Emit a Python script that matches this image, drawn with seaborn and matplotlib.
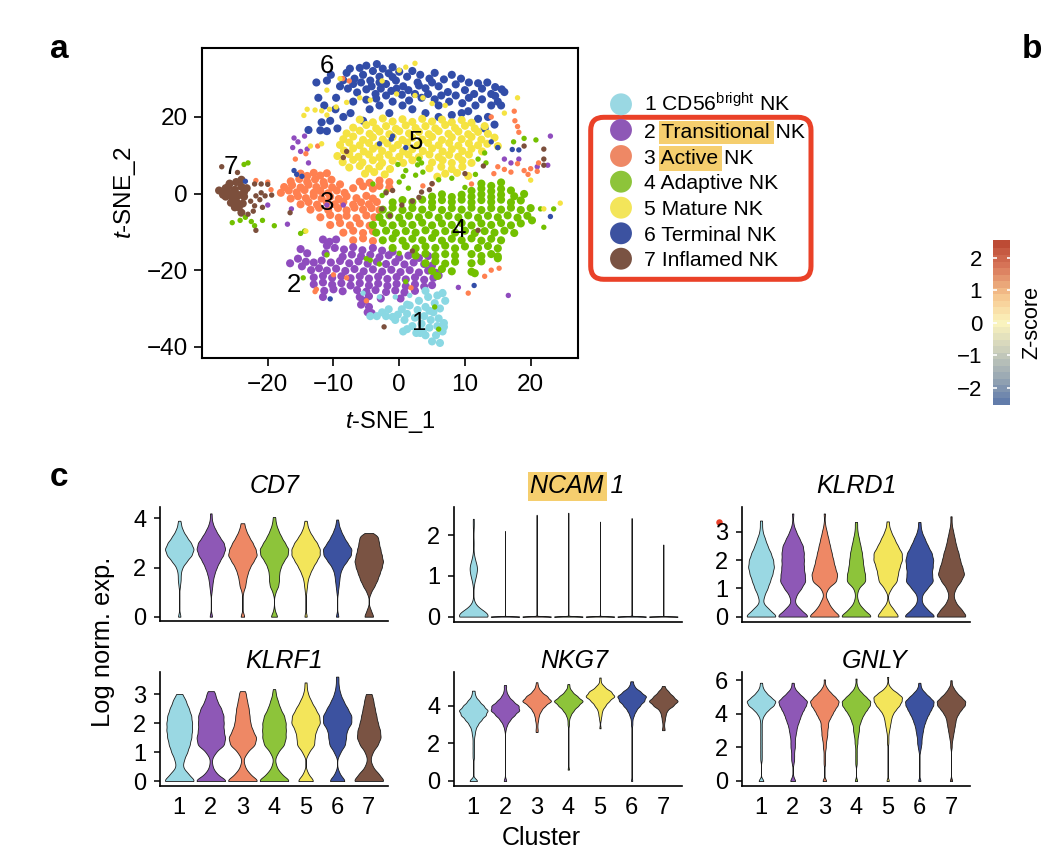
import numpy as np
import pandas as pd
import matplotlib
matplotlib.use("Agg")
import matplotlib.pyplot as plt
from matplotlib.colors import LinearSegmentedColormap
from matplotlib.patches import FancyBboxPatch, Rectangle
import seaborn as sns

W, H = 1042, 858

clusters = ["1", "2", "3", "4", "5", "6", "7"]
vln_colors = ["#9AD8E3", "#8E58B6", "#EE8865", "#8DC43A", "#F3E55A", "#3C52A0", "#7A5343"]
dot_colors = ["#8AD8E3", "#8F4CBE", "#FF8050", "#73C000", "#F5E342", "#324DA8", "#7C4F3C"]
legend_labels = ["1 CD56$^{\\mathrm{bright}}$ NK", "2 Transitional NK", "3 Active NK", "4 Adaptive NK",
                 "5 Mature NK", "6 Terminal NK", "7 Inflamed NK"]

# t-SNE points
pts6 = [(-8,31.5),(-7.5,32.6),(-6.8,30),(-6,32.8),(-5.5,31),(-5,33.4),(-4.4,29.5),(-4,32),(-3.4,33.8),(-3,30.5),
        (-2.5,32.6),(-2,28.6),(-1.6,31.4),(-1,33),(-.5,29.5),(0,31.8),(.6,28),(1.2,30.5),(2,32),(2.8,29),
        (3.2,31),(4,27.5),(4.6,30),(5.4,31.5),(6,28),(6.8,29.8),(7.4,26.5),(8,31),(8.6,28.5),(9.4,30),
        (10,27),(10.6,29),(11.4,26),(12,28.8),(12.6,27.4),(13.4,29),(14,26),(14.6,27.8),(-9,28),(-8.5,29.6),
        (-7.8,27.4),(-7,28.6),(-6.4,26.4),(-5.8,29),(-5,27.2),(-4.2,28),(-3.6,26),(-2.8,27.4),(-2,25.6),(-1.2,26.8),
        (-.4,27.4),(.4,25.8),(1.4,27),(2.4,26),(3.4,25),(4.4,26),(5.4,24.6),(6.4,25.6),(7.6,24),(8.6,25.6),
        (9.6,23.6),(10.6,25),(11.6,23),(12.6,24.6),(-12.6,29),(-12.3,25),(-11,29.5),(-10.4,31),(-11.4,23),(-11.8,18.6),
        (-10.5,19),(-9.4,17),(-12,16.5),(-13.8,16.6),(-11,16.3),(-8.5,20),(-7.4,21),(-5.5,19),(-4.5,22),(-3,23),
        (-1.5,21),(.5,23),(2,22),(4,21),(6,20),(8,20.5),(9.5,21),(10.5,21.5),(12,19.5),(13.5,20),
        (14.5,18),(13,17),(15,24),(16,26.5),(15.6,27.2),(14.6,25.5),(15.5,23),(14,23),(-5,24.5),(-7,24),
        (-1,24),(-3.5,24.8),(1.5,24.3),(6,23),(-9.6,25),(-9.7,22),(3,28.2),(5,29),(-1,30.4),(-3,29)]
pts5 = [(-6,19.3),(-4,18.6),(-2.5,19.6),(-1,18.8),(.5,19.4),(2,18.7),(3.5,19.5),(5,18.8),(6.5,19.3),(8,18.6),(9.5,19.2),(11,18.5),
        (-7,17.2),(-5,17.9),(-3.5,17),(-2,17.6),(-.5,16.9),(1,17.8),(2.5,17.1),(4,17.6),(5.5,17),(7,17.9),(8.5,17.1),(10,17.7),(11.5,17),(13,17.6),
        (-8,15.7),(-6,16.4),(-4.5,15.6),(-3,16.2),(-1.5,15.5),(0,16.3),(1.5,15.7),(3,16.1),(4.5,15.5),(6,16.3),(7.5,15.6),(9,16.2),(10.5,15.5),(12,16.1),(13.5,15.6),
        (-8.5,14.2),(-7,14.9),(-5.5,14),(-4,14.7),(-2.5,14.1),(-1,14.8),(.5,14),(2,14.6),(3.5,14.1),(5,14.8),(6.5,14),(8,14.7),(9.5,14.2),(11,14.8),(12.5,14.1),(14.5,14.6),
        (-9,12.7),(-7.6,13.3),(-6,12.6),(-4.6,13.2),(-3.2,12.5),(-1.8,13.1),(-.2,12.7),(1.2,13.3),(2.8,12.6),(4.4,13.2),(6,12.6),(7.6,13.2),(9,12.5),(10.6,13.1),(12,12.6),(13.4,13),(15,12.4),
        (-8.4,11.2),(-7,11.8),(-5.4,11),(-4,11.7),(-2.6,11.1),(-1,11.8),(.6,11),(2,11.6),(3.6,11.1),(5,11.8),(6.6,11),(8,11.6),(9.6,11.1),(11,11.7),(12.6,11),
        (-9.4,9.8),(-7.6,10.3),(-6.2,9.6),(-4.6,10.2),(-3,9.5),(-1.6,10.1),(0,9.6),(1.4,10.2),(3,9.5),(4.6,10.2),(6,9.5),(7.6,10.1),(9,9.6),(10.6,10.2),
        (-8.6,8.2),(-7,8.8),(-5.6,8.1),(-4,8.7),(-2.6,8),(-1,8.6),(.6,8),(2,8.7),(5,8.1),(6.6,8.7),(8,8),(9.6,8.6),(11,8),
        (-7.6,6.8),(-6,7.2),(-4.6,6.5),(-3,7.1),(-1.4,6.4),(4.6,6.6),(6.4,7),(8,6.4),(9.6,7),
        (-5.2,5.2),(-3.8,5.6),(-2.2,5),(7,5.2),(8.8,5.4),(10.5,4.6),(5.8,4.4)]
pts3 = [(-15,5.2),(-14,4.6),(-13,5.4),(-12,4.7),(-11,5.3),(-16.5,3.2),(-15.2,3.8),(-14,3.1),(-12.8,3.7),(-11.5,3),(-10.3,3.6),
        (-17.5,1.7),(-16.3,2.2),(-15,1.6),(-13.8,2.3),(-12.6,1.7),(-11.4,2.2),(-10.2,1.6),(-9,2.4),
        (-18,.2),(-16.8,.8),(-15.6,.3),(-14.4,.9),(-13,.2),(-12,.7),(-10.8,.1),(-9.5,.8),(-8.3,.2),
        (-16.5,-1.3),(-15.4,-.7),(-14.2,-1.2),(-13,-.6),(-11.8,-1.3),(-10.5,-.8),(-9.2,-1.4),(-8,-.7),(-6.5,-1.2),(-5,-.6),(-4,-1.3),
        (-15,-2.8),(-13.8,-2.2),(-12.5,-2.9),(-11,-2.3),(-9.8,-2.8),(-8.5,-2.2),(-7,-2.9),(-5.8,-2.3),(-4.6,-2.8),(-3.4,-2.2),
        (-13.5,-4.2),(-12.2,-3.7),(-10.8,-4.3),(-9.3,-3.8),(-8,-4.4),(-6.8,-3.7),(-5.5,-4.2),(-4.2,-3.8),(-3,-4.3),
        (-12,-6.2),(-10.5,-5.6),(-9.2,-6.3),(-8,-5.8),(-6.5,-6.4),(-5,-5.7),(-3.8,-6.2),
        (-10.5,-8.2),(-9,-7.7),(-7.5,-8.3),(-6,-7.8),(-4.5,-8.4),(-8.5,-10.2),(-7,-9.7),(-5.5,-10.3),(-4,-9.8),
        (-7,-12.2),(-5.5,-11.7),(-4,-12.4),(-7,1.4),(-5.5,1.9),(-4,1.3),(-3,2),(-1.5,1.5),(-6,3.1),(-4.5,2.8),(-3,3.4),(-1.5,3)]
pts2 = [(-15,-14.5),(-14,-15.6),(-15.4,-17),(-14.2,-17.8),(-16.6,-18.2),(-14.8,-19),(-11.6,-12),(-10.6,-12.6),(-9.6,-12),(-11,-13.6),(-9.8,-14.2),(-11.2,-15.6),
        (-8.4,-14.6),(-7,-14),(-5.6,-14.8),(-4,-14.2),(-2.6,-14.9),(-1,-15.2),(-8.6,-16.5),(-7.2,-15.9),(-5.8,-16.4),(-4.4,-16),(-3,-16.6),(-1.6,-16.1),(0,-16.7),(1.4,-16.2),(3,-16.8),(4.4,-16.3),
        (-13,-18),(-11.8,-17.5),(-10.4,-18),(-9,-17.6),(-7.6,-18.2),(-6.2,-17.7),(-4.8,-18.3),(-3.4,-17.8),(-2,-18.4),(-.6,-17.9),(.8,-18.5),(2.2,-18),(3.8,-18.4),(5,-18.8),
        (-13.4,-20),(-12.2,-19.5),(-11,-20.1),(-9.6,-19.6),(-8.2,-20.2),(-6.8,-19.7),(-5.4,-20.3),(-4,-19.8),(-2.6,-20.4),(-1.2,-19.9),(.2,-20.5),(1.6,-20),(3,-20.6),(4.4,-20.1),(5.6,-20.7),
        (-13,-21.9),(-11.6,-21.5),(-10.2,-22),(-8.8,-21.6),(-7.4,-22.1),(-6,-21.6),(-4.6,-22.2),(-3.2,-21.7),(-1.8,-22.3),(-.4,-21.8),(1,-22.4),(2.4,-21.9),(3.8,-22.5),(5.2,-22),(6,-21.4),
        (-13,-23.7),(-11.6,-23.2),(-10.2,-23.8),(-8.8,-23.4),(-7.4,-24),(-6,-23.4),(-4.6,-24),(-3.2,-23.5),(-1.8,-24.1),(-.4,-23.6),(1,-24.2),(2.4,-23.7),(3.8,-24.3),(5,-23.9),
        (-11.4,-25.4),(-10,-25),(-8.6,-25.5),(-6.4,-25.2),(-5,-25.6),(-3.6,-25.2),(-2,-25.7),(-.6,-25.3),(.8,-25.8),(2.4,-25.4),
        (-11.6,-27),(-6,-27),(-4.6,-26.8),(-2.8,-27.4),(.2,-27.4),(-5.8,-29),(-5.2,-28),(-4.6,-29.6),(-4.8,-31),(-4.2,-31.2)]
pts1 = [(-4.4,-32),(-3.4,-32),(-2.6,-31),(-2,-32),(-1.6,-30.2),(-1,-32.2),(-.6,-33),(-.2,-31.6),(.4,-30.2),(.8,-33),(1.2,-31.4),(1.6,-29.2),(2,-34.6),(2.4,-32.4),
        (2.8,-30.4),(3,-28),(3.4,-34),(3.6,-36),(3.8,-32),(4,-29.6),(4.4,-27),(4.6,-35),(4.8,-33),(5.2,-31),(5.4,-28.6),(5.6,-37),(5.8,-34.6),(6,-32.6),(6.2,-30),(6.6,-36),
        (5,-38.6),(6.2,-39),(4,-37),(3.2,-36.4),(1.2,-35.4),(.6,-36),(2.6,-36.4),(6.8,-33.8),(7,-28),(6.6,-26),(4,-25.4),(6.8,-34.8),(5.8,-26.6),(4.6,-30.6),(1.2,-29)]
pts4 = [(12.5,2.6),(14,2),(15.5,2.9),(11,.7),(12.5,1.3),(14,.6),(15.5,1.2),(17,.8),(5,-.8),(6.5,-.2),(8,-.9),(9.5,-.3),(11,-.8),(12.5,-.2),(14,-.9),(15.5,-.3),(17.5,-.7),(19,-.1),
        (-1,-2.3),(.5,-1.7),(2,-2.2),(3.5,-1.6),(5,-2.3),(6.5,-1.7),(8,-2.2),(9.5,-1.6),(11,-2.3),(12.5,-1.7),(14,-2.2),(15.5,-1.6),(17,-2.3),(18.5,-1.8),
        (-2.5,-4.2),(-1,-3.7),(.5,-4.3),(2,-3.8),(3.5,-4.2),(5,-3.6),(6.5,-4.3),(8,-3.8),(9.5,-4.2),(11,-3.7),(12.5,-4.3),(14,-3.8),(15.5,-4.2),(17,-3.7),(18.5,-4.3),(20,-3.8),
        (-3,-6.2),(-1.5,-5.7),(0,-6.3),(1.5,-5.8),(3,-6.2),(4.5,-5.6),(6,-6.3),(7.5,-5.8),(9,-6.2),(10.5,-5.7),(12,-6.3),(13.5,-5.8),(15,-6.2),(16.5,-5.7),(18,-6.3),(19.5,-5.8),
        (-4,-8.2),(-2.5,-7.7),(-1,-8.3),(.5,-7.8),(2,-8.2),(3.5,-7.6),(5,-8.3),(6.5,-7.8),(8,-8.2),(9.5,-7.7),(11,-8.3),(12.5,-7.8),(14,-8.2),(15.5,-7.7),(17,-8.3),(18.5,-7.8),(20.2,-7),
        (-3.5,-10.2),(-2,-9.7),(-.5,-10.3),(1,-9.8),(2.5,-10.2),(4,-9.6),(5.5,-10.3),(7,-9.8),(8.5,-10.2),(10,-9.7),(11.5,-10.3),(13,-9.8),(14.5,-10.2),(16,-9.7),(17.5,-10.3),
        (-2.5,-12.2),(-1,-11.7),(.5,-12.3),(2,-11.8),(3.5,-12.2),(5,-11.6),(6.5,-12.3),(8,-11.8),(9.5,-12.2),(11,-11.7),(12.5,-12.3),(14,-11.8),(15.5,-12.2),
        (-1,-14.2),(1,-13.7),(2.5,-14.3),(4,-13.8),(5.5,-14.2),(7,-13.6),(8.5,-14.3),(10,-13.8),(12,-14.2),(13.5,-13.7),(15,-14.3),
        (2.5,-16.2),(4,-15.7),(5.5,-16.3),(7,-15.8),(8.5,-16.2),(11,-15.8),(12.5,-16.3),(14,-15.8),(15,-16.4),
        (4,-18.2),(5.5,-17.7),(7,-18.3),(8.5,-17.8),(11,-18.2),(12.5,-17.7),(15,-16.9),(5,-20.2),(6.5,-19.7),(8,-20.3),(5.8,-21.5),(11,-20.4),(11.5,-20.8)]
pts7 = [(-27.4,.8),(-26.8,-.3),(-26.4,1.4),(-26,.2),(-25.8,2.6),(-25.4,-1),(-25,1),(-24.8,3),(-24.4,-.4),(-24,1.8),(-23.6,-.8),(-25.6,-2.4),(-24.8,-2),(-24.4,-3.6),
        (-23.6,.4),(-24,3.6),(-23.2,1.4),(-25,-3.6),(-24,-5),(-23.8,-2.6),(-26.4,-.8),(-25.2,.2),(-26,1.8),(-24.6,-2.8)]
# strays, drawn on top of the main clouds
stray1 = [(-3,-27),(-5.5,-26),(-.6,-27),(6.6,-25.6),(1.6,-26.6)]
stray2 = [(-16.4,-4),(-17,-8),(-13.8,8),(-16,14.5),(-15.4,13.5),(-14.4,15),(-16.2,12),(-15,11),(-14,11.6),(23,15),(22.6,7.4),(16,9),(17,8),(18.2,9),(21,7),(-8.5,-3),(-11,-3),(9,-24.5),(-20,-3),(16.6,-26.6)]
stray3 = [(-15.8,9),(-14.2,10.4),(-12.4,12.4),(14,20),(17.5,21.5),(17.6,19),(18,17.5),(18.2,16),(15,7),(16,6.3),(17,5.6),(18,7.8),(19,6),(20,6.5),(19.6,5),(21,5.8),(21.2,8),(14.4,5.2),(3.6,2),(5,2.5),(-21.8,3.4),(-20,3),
          (-19.5,1),(-5,-28),(-12.6,-25),(-12.8,-25.6),(14,-20),(15.2,-19.5),(13,-21.6),(10.5,-26),(1.8,-24.6),(-10,-21.2),(-8,-22),(-3,3.2),(11,2.5),(-8.6,30),(-7.6,29.4)]
stray4 = [(-4,2.5),(-2,.5),(0,3),(1,6),(2.5,4.8),(2.8,7.5),(3.4,8),(3.6,5.6),(.6,4.5),(-.2,7.6),(1.4,1.4),(3,9),(-2.6,-.5),(6,3.6),(8,4),(10,1.6),(11.6,5),(13.2,8),(15,12),(12,9),(13,10.6),(17.4,13.5),(19,14.4),(20.8,14),
          (-23.4,-6.2),(-25.4,-7.6),(-24.2,-7),(-22.5,-7.3),(-22,-8.4),(-20.8,-7),(-19,-8.4),(-23.6,7.6),(-23,8),(-14.4,-9.8),(-15,-10.4),(-11,-16),(-5,-17),(0,-15.6),(-3,-18.4),(-4.4,-17.4),(1,-23),(5.4,-29.6),(-14.6,-22),(6,-35.4),(22,-8.8),(21.5,-4),(23.5,-4)]
stray5 = [(-14,22),(-12.8,21.8),(-11.8,21.6),(-10.6,22),(-14.5,20.4),(-11,20.5),(-9.6,22.6),(-8,23.8),(-6,25),(-4.4,24.4),(-2.6,29.4),(0,32.2),(1,33),(2.4,34),(-.4,26),(2.4,25.6),(3.6,25),(5,23.5),(7,23),(-9,30),(-11,27),(-11.8,13),(-13.5,12.4),(16,21),(18,25),(20,3.5),(22,-4),(24.5,-2.5),(-14.2,-9.8)]
stray6 = [(-16,6),(-15.6,5),(-14.8,4.5),(-3,13),(-1,15),(1,12),(-1.2,14.2),(14,13.5),(15,12),(17.2,11.5),(18.2,11.4),(11.4,-24),(-10.5,-27.5),(23,-6),(-23.4,3.2)]
stray7 = [(-22.6,-2),(-22,-3.2),(-21.2,-1.6),(-20.4,-.6),(-20.8,-3.6),(-21.8,-.6),(-21,.2),(-22.2,-4.6),(-23,-5.4),(-27,7),(-24.6,5.5),(-22,2.5),(-21,2.5),(-20,2.4),(-19.4,-.4),(-21.8,-9.6),(-16.6,-5),(-8,11),(-8.5,9.4),(-2,.2),(-1,.8),(3,-1),(3.4,.4),(4.6,1),(5,2.6),(2,-2),(-2.6,-4),(-1.4,-5.8),(.4,-3),(10,5.2),(12.8,7.2),(19,12.4),(22,11.6),(22,9),(22,7.4),(12,-9.6),(2,-15),(-2.3,-34.8)]

# violin samples: sample counts per level, one row per cluster
cd7_levels = [0,.25,.5,.75,1,1.25,1.5,1.75,2,2.25,2.5,2.75,3,3.25,3.5,3.75,4]
cd7_counts = [[1,0,0,0,0,1,2,2,4,10,17,20,16,10,5,2,0],
              [1,0,0,0,1,2,3,5,8,12,17,20,18,12,7,3,1],
              [2,0,0,0,1,4,5,7,10,15,20,18,14,9,5,2,0],
              [4,1,0,0,2,6,7,7,9,13,19,20,15,10,6,3,1],
              [1,0,0,0,1,2,3,6,10,15,20,20,16,10,5,2,0],
              [1,0,0,0,1,2,3,4,7,13,19,20,14,9,5,2,0],
              [6,3,0,0,3,8,12,15,18,20,18,16,14,13,0,0,0]]
cd7_top = [3.9,4.2,3.8,4.05,3.9,3.95,3.4]
ncam1_levels = [0,.1,.2,.3,.4,.8,1,1.2,1.4,1.8,2.2]
ncam1_counts = [[30,10,4,1,0,1,5,8,3,1,1],[3000,0,0,0,0,0,0,0,0,0,0],[3000,0,0,0,0,0,0,0,0,0,0],[3000,0,0,0,0,0,0,0,0,0,0],
                [3000,0,0,0,0,0,0,0,0,0,0],[3000,0,0,0,0,0,0,0,0,0,0],[3000,0,0,0,0,0,0,0,0,0,0]]
ncam1_top = [2.4,2.1,2.5,2.55,2.33,2.42,1.77]
klrd1_levels = [0,.25,.5,.75,1,1.25,1.5,1.75,2,2.25,2.5,2.75,3,3.25,3.5]
klrd1_counts = [[20,10,2,4,8,11,14,16,15,12,8,5,2,1,0],
                [19,9,2,4,10,15,14,13,13,13,12,8,4,1,0],
                [20,10,5,1,4,15,16,13,11,9,7,5,3,1,0],
                [22,10,3,1,3,13,12,10,9,8,6,4,2,1,0],
                [13,7,1,0,4,11,12,14,17,17,12,8,4,1,0],
                [21,10,3,3,10,18,16,17,18,16,11,7,3,1,0],
                [21,14,6,3,6,13,18,15,12,10,7,5,3,1,0]]
klrd1_top = [3.4,3.65,3.65,3.35,3.37,3.35,3.55]
klrf1_levels = klrd1_levels
klrf1_counts = [[20,11,4,6,10,13,15,16,16,15,12,8,3,0,0],
                [21,7,2,1,6,17,18,16,16,16,13,8,5,0,0],
                [21,9,3,1,6,16,18,13,10,9,8,6,4,0,0],
                [21,9,3,1,5,13,15,15,15,13,8,5,2,0,0],
                [10,3,0,0,4,11,11,13,18,17,12,7,3,1,0],
                [10,3,0,0,4,10,11,12,18,18,13,8,4,2,1],
                [21,13,5,2,5,12,16,15,12,10,8,6,3,0,0]]
klrf1_top = [2.9,3.1,3.1,3.17,3.4,3.6,2.95]
nkg7_levels = [0,.25,.5,.75,1,1.25,1.5,1.75,2,2.25,2.5,2.75,3,3.25,3.5,3.75,4,4.25,4.5,4.75,5,5.25]
nkg7_counts = [[5,0,0,0,0,1,1,1,1,1,2,3,6,11,17,20,14,8,3,1,0,0],
               [1,0,0,0,0,0,0,0,0,0,0,1,3,7,13,20,19,11,5,2,1,0],
               [0,0,0,0,0,0,0,0,0,0,0,1,1,2,3,6,11,20,14,6,2,0],
               [0,0,0,0,0,0,0,0,0,0,0,0,1,1,3,7,13,20,12,5,1,0],
               [0,0,0,0,0,0,0,0,0,0,0,0,0,1,2,3,7,12,20,15,6,1],
               [0,0,0,0,0,0,0,0,0,0,0,0,1,1,3,6,11,17,20,12,4,1],
               [0,0,0,0,0,0,0,0,0,0,0,1,1,2,3,5,13,20,13,7,1,0]]
nkg7_top = [4.8,5.1,5.25,5.15,5.5,5.3,5.05]
nkg7_low = [0,0,2.6,.6,2.8,0,2.7]
gnly_levels = [0,.25,.5,.75,1,1.25,1.5,1.75,2,2.25,2.5,2.75,3,3.25,3.5,3.75,4,4.25,4.5,4.75,5,5.25,5.5,5.75]
gnly_counts = [[3,0,0,0,0,1,1,1,1,1,1,1,1,1,1,2,5,10,17,20,13,7,3,1],
               [3,1,0,0,1,2,2,2,3,3,3,4,5,6,8,10,12,15,18,20,14,8,3,1],
               [2,0,0,0,1,1,1,1,2,2,3,4,4,5,5,8,11,14,18,20,15,9,4,1],
               [1,0,0,0,1,1,1,1,1,2,2,3,4,4,6,8,11,15,19,20,14,8,3,1],
               [1,0,0,0,0,0,0,0,0,1,1,1,2,3,4,5,7,11,16,19,20,13,5,1],
               [1,0,0,0,0,0,0,1,2,3,3,4,5,6,8,10,13,16,19,20,14,8,3,1],
               [1,0,0,0,0,0,0,0,1,1,2,3,4,5,6,7,10,14,19,20,14,8,4,1]]
gnly_top = [5.85,5.85,6.05,6.1,6.2,5.85,6.0]

zero_low = [0,0,0,0,0,0,0]

zscore_ticks = [-2,-1,0,1,2]
zscore_colors = ["#5A76A9","#9AA9B3","#CDD0BC","#FBF4BE","#F6C58D","#D9795C","#B8432F"]
zscore_edges = [-2.52,-2.32,-2.12,-1.92,-1.72,-1.52,-1.32,-1.12,-.92,-.72,-.52,-.32,-.12,.08,.28,.48,.68,.88,1.08,1.28,1.48,1.68,1.88,2.08,2.28,2.54]

sns.set_theme(style="ticks")
plt.rcParams["font.family"] = ["Liberation Sans", "DejaVu Sans"]
plt.rcParams["mathtext.fontset"] = "custom"
plt.rcParams["mathtext.rm"] = "Liberation Sans"
plt.rcParams["mathtext.it"] = "Liberation Sans:italic"
plt.rcParams["axes.unicode_minus"] = True


def px_axes(left, top, right, bottom):
    return fig.add_axes([left / W, 1 - bottom / H, (right - left) / W, (bottom - top) / H])


def abs_bw(width):
    # bandwidth in data units, whatever the spread of the samples
    return lambda k: width / np.std(k.dataset, ddof=1)


def draw_violins(ax, levels, counts, top, low, bw, ylim, yticks):
    rows = []
    for name, row, t, l in zip(clusters, counts, top, low):
        vals = np.concatenate([np.repeat(levels, row), [t, l]])
        rows.append(pd.DataFrame({"cluster": name, "value": vals}))
    df = pd.concat(rows)
    sns.violinplot(data=df, x="cluster", y="value", hue="cluster", order=clusters, hue_order=clusters,
                   palette=vln_colors, density_norm="width", cut=0, inner=None, width=0.9, saturation=1,
                   linewidth=0.6, linecolor="#1a1a1a", bw_method=bw, gridsize=400, legend=False, ax=ax)
    ax.set_xlim(-0.6, 6.6)
    ax.set_ylim(*ylim)
    ax.set_yticks(yticks)
    ax.set_xlabel("")
    ax.set_ylabel("")
    ax.patch.set_visible(False)
    sns.despine(ax=ax)
    for s in ["left", "bottom"]:
        ax.spines[s].set_linewidth(1.2)
        ax.spines[s].set_color("black")
    ax.tick_params(axis="y", length=4, width=1.1, labelsize=17, pad=6, color="black", labelcolor="black")
    ax.tick_params(axis="x", length=0, labelsize=17, pad=8, labelcolor="black")


fig = plt.figure(figsize=(W / 100, H / 100), dpi=100)

# pixel overlay for legend, highlights and free text
bg = fig.add_axes([0, 0, 1, 1], zorder=0)
bg.set_xlim(0, W)
bg.set_ylim(H, 0)
bg.axis("off")

# panel a
ax_a = px_axes(202, 48, 578, 357.5)
ax_a.set_zorder(1)
frames = []
for name, pts in zip(["6", "5", "3", "2", "1", "4", "7"], [pts6, pts5, pts3, pts2, pts1, pts4, pts7]):
    frames.append(pd.DataFrame(pts, columns=["tsne1", "tsne2"]).assign(cluster=name))
sns.scatterplot(data=pd.concat(frames), x="tsne1", y="tsne2", hue="cluster", hue_order=clusters, palette=dot_colors,
                s=34, linewidth=0, legend=False, ax=ax_a)
frames = []
for name, pts in zip(clusters, [stray1, stray2, stray3, stray4, stray5, stray6, stray7]):
    frames.append(pd.DataFrame(pts, columns=["tsne1", "tsne2"]).assign(cluster=name))
sns.scatterplot(data=pd.concat(frames), x="tsne1", y="tsne2", hue="cluster", hue_order=clusters, palette=dot_colors,
                s=15, linewidth=0, legend=False, ax=ax_a)
ax_a.set_xlim(-30.0, 27.2)
ax_a.set_ylim(-42.8, 38)
ax_a.set_xticks([-20, -10, 0, 10, 20])
ax_a.set_yticks([-40, -20, 0, 20])
ax_a.set_xlabel("")
ax_a.set_ylabel("")
ax_a.tick_params(length=6, width=1.2, labelsize=17.5, pad=4, color="black", labelcolor="black")
ax_a.tick_params(axis="x", pad=6)
for s in ax_a.spines.values():
    s.set_linewidth(1.5)
    s.set_color("black")
cluster_tags = {"6": (-11, 33.3), "5": (2.6, 13.5), "7": (-25.6, 6.9), "3": (-11, -2.4),
                "4": (9, -9.6), "2": (-16, -23.9), "1": (3.1, -33.8)}
for tag, (tx, ty) in cluster_tags.items():
    ax_a.text(tx, ty, tag, fontsize=18.5, ha="center", va="center", color="black")

# panel c
ax1 = px_axes(160.3, 507, 387.7, 621)
draw_violins(ax1, cd7_levels, cd7_counts, cd7_top, zero_low, abs_bw(.13), (-.175, 4.46), [0, 2, 4])
ax2 = px_axes(454.3, 507, 682.3, 621.5)
draw_violins(ax2, ncam1_levels, ncam1_counts, ncam1_top, zero_low, 0.2, (-.12, 2.69), [0, 1, 2])
ax3 = px_axes(742, 507, 970, 621.5)
draw_violins(ax3, klrd1_levels, klrd1_counts, klrd1_top, zero_low, abs_bw(.13), (-.175, 3.88), [0, 1, 2, 3])
ax4 = px_axes(160.3, 671.7, 387.7, 786)
draw_violins(ax4, klrf1_levels, klrf1_counts, klrf1_top, zero_low, abs_bw(.13), (-.17, 3.77), [0, 1, 2, 3])
ax5 = px_axes(454.3, 671.7, 682.3, 786)
draw_violins(ax5, nkg7_levels, nkg7_counts, nkg7_top, nkg7_low, abs_bw(.12), (-.27, 5.81), [0, 2, 4])
ax6 = px_axes(742, 671.7, 970, 786)
draw_violins(ax6, gnly_levels, gnly_counts, gnly_top, zero_low, abs_bw(.13), (-.3, 6.51), [0, 2, 4, 6])
for ax in [ax1, ax2, ax3, ax4, ax5, ax6]:
    ax.set_zorder(1)
for ax in [ax1, ax2, ax3]:
    ax.set_xticklabels([])

# colour bar
ax_z = px_axes(993.3, 240, 1010, 405)
ax_z.set_zorder(1)
z_cmap = LinearSegmentedColormap.from_list("zscore", zscore_colors)
z_mid = (np.array(zscore_edges[:-1]) + np.array(zscore_edges[1:])) / 2
ax_z.pcolormesh([0, 1], zscore_edges, z_mid.reshape(-1, 1), cmap=z_cmap, vmin=-2.52, vmax=2.54)
ax_z.set_xlim(0, 1)
ax_z.set_ylim(-2.52, 2.54)
ax_z.set_xticks([])
ax_z.set_yticks(zscore_ticks)
ax_z.tick_params(axis="y", length=0, labelsize=16, pad=8, labelcolor="black")
for s in ax_z.spines.values():
    s.set_visible(False)
for t in zscore_ticks:
    ax_z.plot([0, 0.2], [t, t], color="white", lw=1.2, solid_capstyle="butt")
    ax_z.plot([0.8, 1], [t, t], color="white", lw=1.2, solid_capstyle="butt")

# highlights under the text
for x0, y0, x1, y1 in [(658.7, 120.7, 774, 144), (658.7, 146, 722, 170.7), (528, 472, 606.7, 501)]:
    bg.add_patch(Rectangle((x0, y0), x1 - x0, y1 - y0, facecolor="#F5CE6E", edgecolor="none"))
bg.add_patch(FancyBboxPatch((600.7, 127.3), 200.3, 142, boxstyle="round,pad=10,rounding_size=13",
                            facecolor="none", edgecolor="#EA4128", linewidth=3.6))

legend_y = [104.3, 130, 156, 181.7, 207.7, 233.3, 258.7]
bg.scatter([621] * 7, legend_y, s=248, c=vln_colors, linewidths=0)
for lab, ly in zip(legend_labels, legend_y):
    bg.text(644, ly + 7.6, lab, fontsize=15.2, ha="left", va="baseline", color="black")

titles = [("CD7", 275, 486), ("NCAM 1", 577, 486), ("KLRD1", 856, 486),
          ("KLRF1", 283.7, 661.5), ("NKG7", 574, 661.5), ("GNLY", 875, 661.5)]
for t, tx, ty in titles:
    bg.text(tx, ty, t, fontsize=18, style="italic", ha="center", va="center", color="black")

bg.scatter([719], [522.3], s=22, c="#E8402A", linewidths=0, zorder=5)
bg.text(50, 50, "a", fontsize=24, fontweight="bold", ha="left", va="center", color="black")
bg.text(1022, 50, "b", fontsize=24, fontweight="bold", ha="left", va="center", color="black")
bg.text(50, 478, "c", fontsize=24, fontweight="bold", ha="left", va="center", color="black")
bg.text(390, 422, "$\\mathit{t}$-SNE_1", fontsize=17, ha="center", va="center", color="black")
bg.text(125, 193, "$\\mathit{t}$-SNE_2", fontsize=17.5, rotation=90, ha="center", va="center", color="black")
bg.text(103, 642, "Log norm. exp.", fontsize=18.4, rotation=90, ha="center", va="center", color="black")
bg.text(541, 838, "Cluster", fontsize=18, ha="center", va="center", color="black")
bg.text(1032, 322, "Z-score", fontsize=15.6, rotation=90, ha="center", va="center", color="black")

fig.savefig("out.png", dpi=100, facecolor="white")
